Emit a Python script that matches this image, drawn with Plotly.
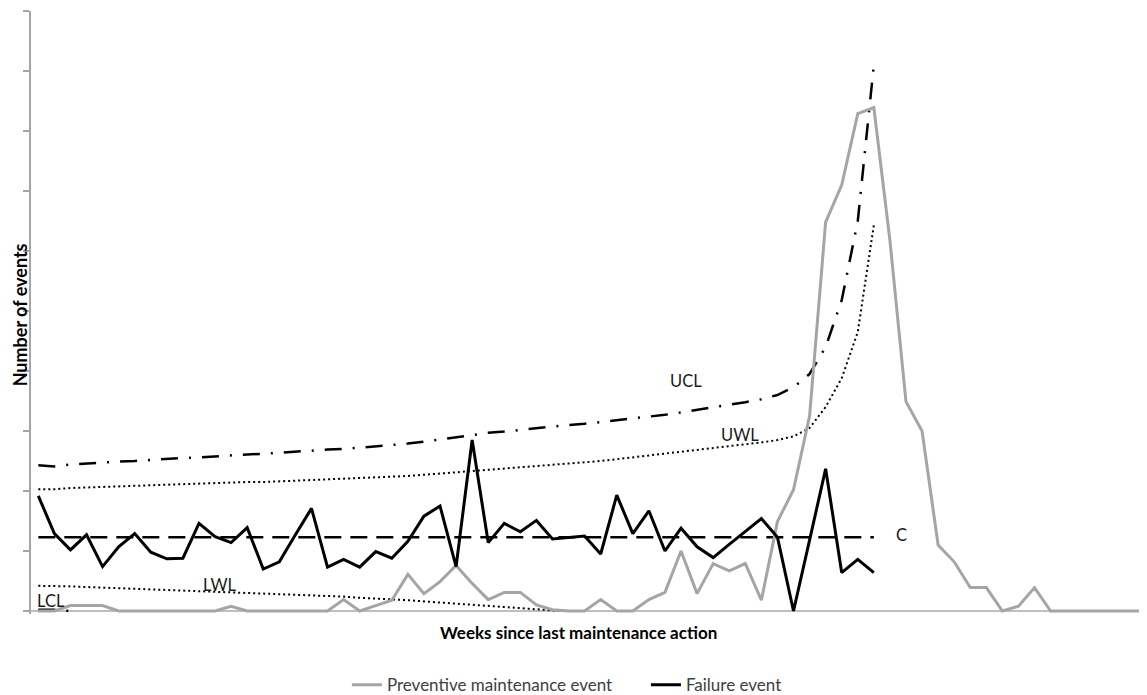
import plotly.graph_objects as go

# ---- data (y in tick units) ----
weeks = list(range(70))

preventive = [0, 0, 0.09, 0.09, 0.09, 0, 0, 0, 0, 0,
              0, 0, 0.08, 0, 0, 0, 0, 0, 0, 0.19,
              0, 0.09, 0.18, 0.61, 0.29, 0.49, 0.76, 0.46, 0.19, 0.31,
              0.31, 0.10, 0.02, 0, 0, 0.19, 0, 0, 0.19, 0.31,
              1.00, 0.29, 0.79, 0.67, 0.79, 0.18, 1.49, 2.02, 3.25, 6.48,
              7.10, 8.29, 8.39, 6.18, 3.49, 3.00, 1.10, 0.82, 0.39, 0.39,
              0, 0.08, 0.39, 0, 0, 0, 0, 0, 0, 0]

failure = [1.92, 1.29, 1.02, 1.27, 0.74, 1.07, 1.29, 0.98, 0.87, 0.88,
           1.46, 1.24, 1.14, 1.39, 0.70, 0.82, 1.27, 1.71, 0.73, 0.86,
           0.73, 0.99, 0.88, 1.16, 1.58, 1.75, 0.74, 2.85, 1.14, 1.46,
           1.32, 1.51, 1.20, 1.22, 1.25, 0.95, 1.93, 1.29, 1.67, 1.00,
           1.38, 1.07, 0.89, 1.11, 1.32, 1.54, 1.23, 0.00, 1.18, 2.37,
           0.64, 0.86, 0.64]

ucl = [2.43, 2.41, 2.44, 2.46, 2.47, 2.49, 2.50, 2.52, 2.53, 2.55,
       2.56, 2.58, 2.59, 2.61, 2.62, 2.64, 2.66, 2.67, 2.69, 2.70,
       2.72, 2.74, 2.76, 2.79, 2.82, 2.86, 2.90, 2.94, 2.97, 2.99,
       3.02, 3.04, 3.07, 3.10, 3.12, 3.15, 3.17, 3.20, 3.23, 3.27,
       3.31, 3.35, 3.40, 3.44, 3.48, 3.53, 3.60, 3.73, 3.95, 4.40,
       5.18, 6.50, 9.10]

uwl = [2.03, 2.03, 2.05, 2.06, 2.07, 2.08, 2.09, 2.10, 2.10, 2.11,
       2.12, 2.13, 2.14, 2.15, 2.15, 2.16, 2.17, 2.18, 2.19, 2.20,
       2.21, 2.22, 2.23, 2.25, 2.27, 2.29, 2.31, 2.33, 2.35, 2.37,
       2.39, 2.41, 2.43, 2.46, 2.48, 2.50, 2.53, 2.56, 2.59, 2.62,
       2.65, 2.68, 2.72, 2.75, 2.78, 2.81, 2.85, 2.91, 3.05, 3.40,
       3.88, 4.65, 6.43]

centre_level = 1.23

lwl = [0.42, 0.42, 0.41, 0.40, 0.39, 0.38, 0.38, 0.37, 0.36, 0.35,
       0.34, 0.33, 0.32, 0.31, 0.30, 0.29, 0.28, 0.27, 0.25, 0.24,
       0.22, 0.21, 0.19, 0.18, 0.16, 0.14, 0.13, 0.11, 0.08, 0.06,
       0.04, 0.03, 0.01, 0.00]

lcl = [0.02, 0.02, 0.0]

# ---- figure ----
FONT = "Lato"
GREY = "#a5a5a5"
DASHDOT = "17px,11px,2px,11px"
DOTS = "2px,3px"

fig = go.Figure()

fig.add_trace(go.Scatter(x=weeks[:len(ucl)], y=ucl, mode="lines", showlegend=False,
                         line=dict(color="black", width=2.5, dash=DASHDOT), hoverinfo="skip"))
fig.add_trace(go.Scatter(x=weeks[:len(uwl)], y=uwl, mode="lines", showlegend=False,
                         line=dict(color="black", width=2, dash=DOTS), hoverinfo="skip"))
fig.add_trace(go.Scatter(x=weeks[:len(failure)], y=[centre_level] * len(failure), mode="lines",
                         showlegend=False, line=dict(color="black", width=2.5, dash="17px,9px"),
                         hoverinfo="skip"))
fig.add_trace(go.Scatter(x=weeks[:len(lwl)], y=lwl, mode="lines", showlegend=False,
                         line=dict(color="black", width=2, dash=DOTS), hoverinfo="skip"))
fig.add_trace(go.Scatter(x=weeks[:len(lcl)], y=lcl, mode="lines", showlegend=False,
                         line=dict(color="black", width=2.5, dash=DASHDOT), hoverinfo="skip"))

fig.add_trace(go.Scatter(x=weeks, y=preventive, mode="lines", name="Preventive maintenance event",
                         line=dict(color=GREY, width=3)))
fig.add_trace(go.Scatter(x=weeks[:len(failure)], y=failure, mode="lines", name="Failure event",
                         line=dict(color="black", width=3)))

labels = [("UCL", 40.3, 3.83), ("UWL", 43.7, 2.93), ("C", 53.7, 1.27),
          ("LWL", 11.25, 0.43), ("LCL", 0.78, 0.17)]
for txt, lx, ly in labels:
    fig.add_annotation(x=lx, y=ly, xref="x", yref="y", text=txt, showarrow=False,
                       font=dict(family=FONT, size=16.5, color="#1a1a1a"),
                       xanchor="center", yanchor="middle")

fig.add_annotation(x=0.4906, y=-0.0315, xref="paper", yref="paper",
                   text="<b>Weeks since last maintenance action</b>", showarrow=False,
                   font=dict(family=FONT, size=17, color="black"),
                   xanchor="center", yanchor="middle")
fig.add_annotation(x=-0.0097, y=4.93, xref="paper", yref="y",
                   text="<b>Number of events</b>", showarrow=False, textangle=-90,
                   font=dict(family=FONT, size=18, color="black"), borderpad=0,
                   xanchor="center", yanchor="middle")

# the page places the figure 8px in from the top-left corner
fig.update_layout(
    width=1139, height=687,
    margin=dict(l=23, r=0, t=3, b=81, autoexpand=False),
    paper_bgcolor="white", plot_bgcolor="white",
    font=dict(family=FONT, size=15, color="#404040"),
    showlegend=True,
    legend=dict(orientation="h", x=0.551, xanchor="center", y=-0.118, yanchor="middle",
                font=dict(family=FONT, size=17, color="#404040"), itemwidth=30,
                entrywidthmode="pixels", entrywidth=254,
                bgcolor="rgba(0,0,0,0)"),
    xaxis=dict(range=[-0.455, 69.0], showgrid=False, zeroline=False, showline=False,
               showticklabels=False, ticks=""),
    yaxis=dict(range=[-0.05, 10], showgrid=False, zeroline=True, zerolinecolor="#bfbfbf",
               zerolinewidth=1.5, showline=True, linecolor="#a6a6a6", linewidth=1.5,
               ticks="outside", ticklen=6, tickcolor="#a6a6a6", tickwidth=1.5,
               tickmode="linear", tick0=0, dtick=1, showticklabels=False),
)

fig.write_html("out.html")
